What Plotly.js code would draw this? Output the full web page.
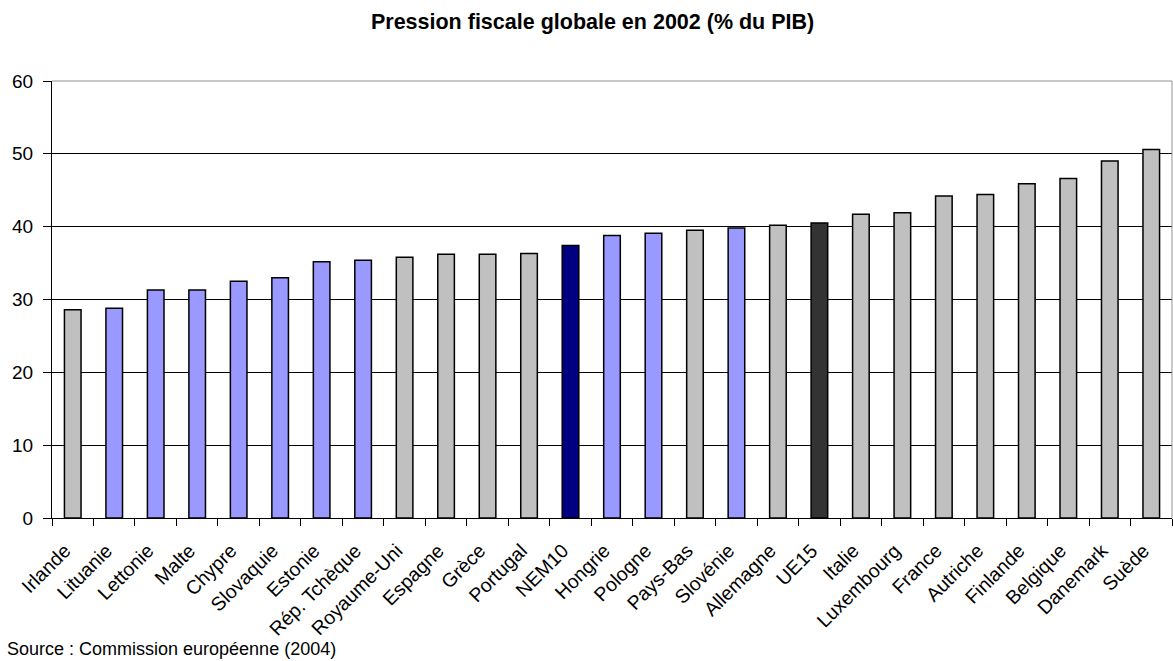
<!DOCTYPE html>
<html>
<head>
<meta charset="utf-8">
<script src="https://cdn.plot.ly/plotly-3.0.1.min.js"></script>
<style>html,body{margin:0;padding:0;background:#fff;}#chart{width:1173px;height:661px;}</style>
</head>
<body>
<div id="chart"></div>
<script>
const categories = ["Irlande","Lituanie","Lettonie","Malte","Chypre","Slovaquie","Estonie","Rép. Tchèque","Royaume-Uni","Espagne","Grèce","Portugal","NEM10","Hongrie","Pologne","Pays-Bas","Slovénie","Allemagne","UE15","Italie","Luxembourg","France","Autriche","Finlande","Belgique","Danemark","Suède"];
const values = [28.6,28.8,31.3,31.3,32.5,33.0,35.2,35.4,35.8,36.2,36.2,36.3,37.4,38.8,39.1,39.5,39.8,40.2,40.5,41.7,41.9,44.2,44.4,45.9,46.6,49.0,50.6];
const groups = ["UE15","NEM","NEM","NEM","NEM","NEM","NEM","NEM","UE15","UE15","UE15","UE15","NEM10avg","NEM","NEM","UE15","NEM","UE15","UE15avg","UE15","UE15","UE15","UE15","UE15","UE15","UE15","UE15"];
const yTicks = [0,10,20,30,40,50,60];

const groupColor = {"UE15":"#C0C0C0","NEM":"#9999FF","NEM10avg":"#000080","UE15avg":"#333333"};
const FONT = "Liberation Sans, Arial, sans-serif";

const trace = {
  type: "bar",
  x: categories,
  y: values,
  width: 0.4,
  marker: {color: groups.map(g => groupColor[g]), line: {color: "#000", width: 1.5}},
  hoverinfo: "x+y"
};

const layout = {
  width: 1173, height: 661,
  margin: {l: 52, r: 1, t: 81, b: 143},
  paper_bgcolor: "#fff", plot_bgcolor: "#fff",
  showlegend: false,
  bargap: 0.6,
  font: {family: FONT, color: "#000"},
  title: {text: "<b>Pression fiscale globale en 2002 (% du PIB)</b>", font: {family: FONT, size: 21.5, color: "#000"},
          x: 592.6/1173, xanchor: "center", xref: "container", yref: "container", y: 1 - 21/661, yanchor: "middle"},
  xaxis: {
    type: "category", tickangle: -45, tickfont: {size: 19.5, family: FONT, color: "#000"},
    ticksuffix: "\u00a0\u00a0",
    showline: true, linecolor: "#000", linewidth: 1, mirror: false,
    ticks: "outside", ticklen: 7, tickcolor: "#000", tickson: "boundaries", ticklabelstandoff: 5,
    showgrid: false, range: [-0.5, categories.length - 0.5], fixedrange: true
  },
  yaxis: {
    range: [0, 60], tickvals: yTicks, ticktext: yTicks.map(String),
    tickfont: {size: 19, family: FONT, color: "#000"},
    showline: true, linecolor: "#000", linewidth: 1,
    ticks: "outside", ticklen: 8, tickcolor: "#000", ticklabelstandoff: 6,
    showgrid: true, gridcolor: "#000", gridwidth: 1, zeroline: false, fixedrange: true
  },
  shapes: [
    {type: "line", xref: "paper", yref: "paper", x0: 0, x1: 1, y0: 1, y1: 1, line: {color: "#909090", width: 1}},
    {type: "line", xref: "paper", yref: "paper", x0: 1, x1: 1, y0: 0, y1: 1, line: {color: "#909090", width: 1}}
  ],
  annotations: [
    {text: "Source : Commission européenne (2004)", xref: "paper", yref: "paper", x: -47/1120, y: -131/437,
     xanchor: "left", yanchor: "middle", showarrow: false, font: {family: FONT, size: 18, color: "#000"}}
  ]
};

Plotly.newPlot("chart", [trace], layout, {displayModeBar: false, staticPlot: true});
</script>
</body>
</html>
